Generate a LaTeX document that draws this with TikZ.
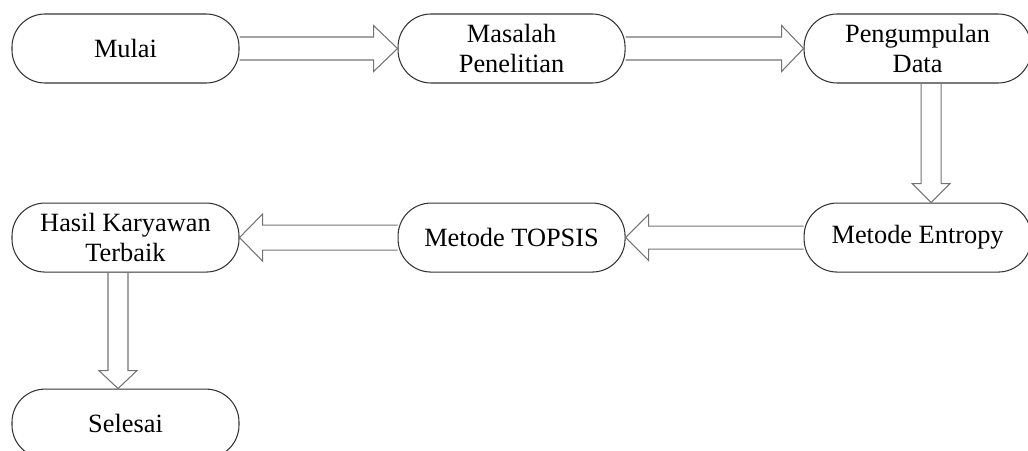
\documentclass[tikz,border=0pt]{standalone}
\usepackage{fontspec}
\setmainfont{Liberation Serif}
\usetikzlibrary{positioning,calc}

\begin{document}
\begin{tikzpicture}[x=1cm, y=1cm,
	langkah/.style={draw=black!80, line width=0.6pt, rounded corners=0.66cm,
		minimum width=4.54cm, minimum height=1.38cm, inner sep=0pt,
		align=center, font=\fontsize{15}{17.5}\selectfont},
	panah/.style={draw=black!55, line width=0.6pt, line join=miter}]
	
	% 0. Bingkai gambar (kotak paling kanan dan bawah sengaja terpotong)
	\useasboundingbox (0,0) rectangle (20.56,9.0);
	
	% 1. Baris atas: alur ke kanan
	\node[langkah] (mulai) at (2.51,8.03) {Mulai};
	\node[langkah, right=3.16cm of mulai] (masalah) {Masalah\\Penelitian};
	\node[langkah, right=3.56cm of masalah] (data) {Pengumpulan\\Data};
	
	% 2. Baris tengah: alur ke kiri
	\node[langkah, below=2.38cm of data] (entropy) {Metode Entropy};
	\node[langkah, left=3.56cm of entropy] (topsis) {Metode TOPSIS};
	\node[langkah, left=3.16cm of topsis] (hasil) {Hasil Karyawan\\Terbaik};
	
	% 3. Baris bawah
	\node[langkah, below=2.32cm of hasil] (selesai) {Selesai};
	
	% 4. Panah blok mendatar (ke kanan)
	\draw[panah] ($(mulai.east)+(0,0.23)$) -- ($(masalah.west)+(-0.48,0.23)$) -- ++(0,0.23)
		-- (masalah.west) -- ($(masalah.west)+(-0.48,-0.46)$) -- ++(0,0.23)
		-- ($(mulai.east)+(0,-0.23)$);
	\draw[panah] ($(masalah.east)+(0,0.23)$) -- ($(data.west)+(-0.44,0.23)$) -- ++(0,0.23)
		-- (data.west) -- ($(data.west)+(-0.44,-0.46)$) -- ++(0,0.23)
		-- ($(masalah.east)+(0,-0.23)$);
	
	% 5. Panah blok tegak (ke bawah)
	\draw[panah] ($(data.south)+(0.07,0)$) -- ($(entropy.north)+(0.07,0.38)$) -- ++(-0.18,0)
		-- ($(entropy.north)+(0.27,0)$) -- ($(entropy.north)+(0.65,0.38)$) -- ++(-0.18,0)
		-- ($(data.south)+(0.47,0)$);
	\draw[panah] ($(hasil.south)+(-0.35,0)$) -- ($(selesai.north)+(-0.35,0.36)$) -- ++(-0.18,0)
		-- ($(selesai.north)+(-0.15,0)$) -- ($(selesai.north)+(0.23,0.36)$) -- ++(-0.18,0)
		-- ($(hasil.south)+(0.05,0)$);
	
	% 6. Panah blok mendatar (ke kiri)
	\draw[panah] ($(entropy.west)+(0,0.23)$) -- ($(topsis.east)+(0.46,0.23)$) -- ++(0,0.23)
		-- (topsis.east) -- ($(topsis.east)+(0.46,-0.46)$) -- ++(0,0.23)
		-- ($(entropy.west)+(0,-0.23)$);
	\draw[panah] ($(topsis.west)+(0,0.25)$) -- ($(hasil.east)+(0.46,0.25)$) -- ++(0,0.22)
		-- (hasil.east) -- ($(hasil.east)+(0.46,-0.47)$) -- ++(0,0.22)
		-- ($(topsis.west)+(0,-0.25)$);
\end{tikzpicture}
\end{document}
